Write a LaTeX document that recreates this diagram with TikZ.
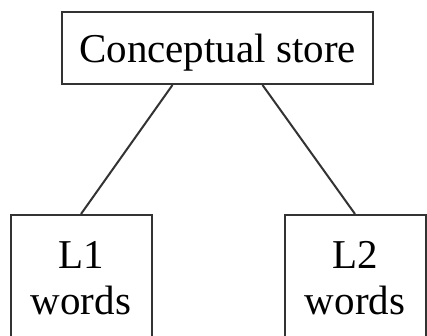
\documentclass[tikz,border=0pt]{standalone}
\usepackage{fontspec}
\setmainfont{Liberation Serif}
\begin{document}
\begin{tikzpicture}[x=1pt,y=1pt]

% size of the frame
\useasboundingbox (0,0) rectangle (427,-335);
\clip (0,0) rectangle (427,-335);
% node style definition
\tikzstyle{store} = [
	draw=black!80, line width=2pt, rectangle, font=\fontsize{41}{46}\selectfont,
	minimum width=311pt, minimum height=72pt,
	text height=34pt, text depth=6pt ];
\tikzstyle{words} = [
	draw=black!80, line width=2pt, rectangle, font=\fontsize{41}{46}\selectfont,
	align=center, anchor=north, minimum width=141pt,
	inner ysep=26pt, text depth=120pt ];
\tikzstyle{link} = [draw=black!80, line width=2pt];

\node[store] (cs) at (217.5,-48) {Conceptual store};

\node[words] (l1) at (81,-214) {L1\\words};
\node[words] (l2) at (355,-214) {L2\\words};

\draw[link] (cs.south) ++(-45,0) -- (l1.north);
\draw[link] (cs.south) ++(45,0) -- (l2.north);

\end{tikzpicture}
\end{document}
